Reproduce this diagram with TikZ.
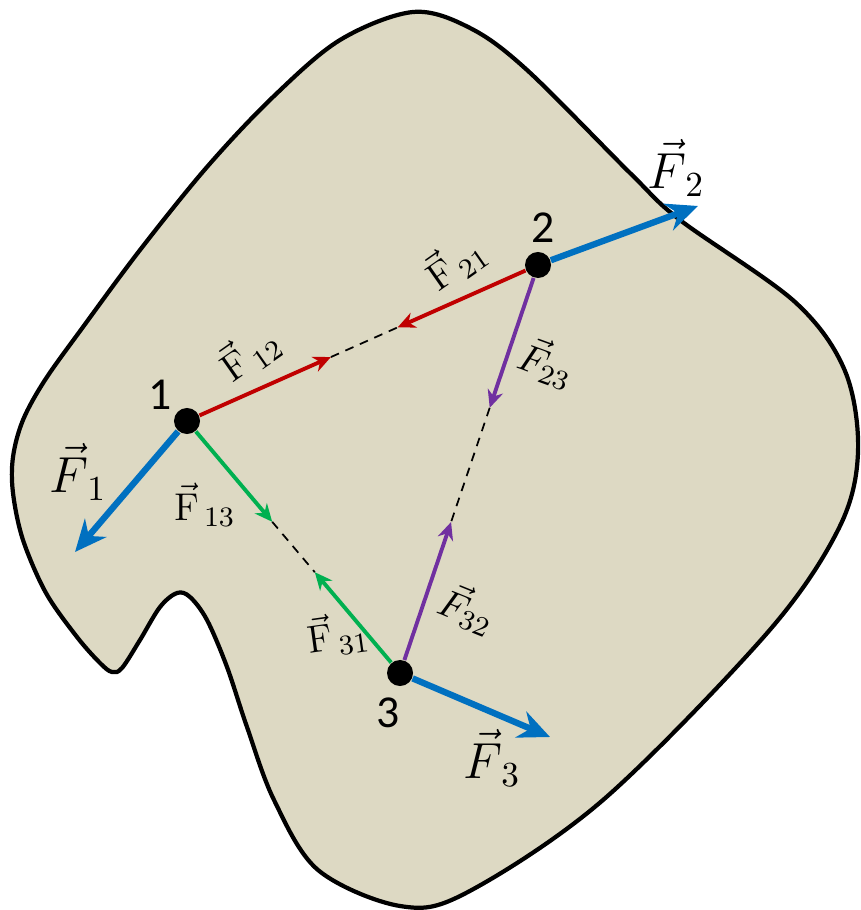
\documentclass[tikz,border=0pt]{standalone}
\usepackage{fontspec}
\usepackage{tikz}
\usetikzlibrary{arrows.meta, calc, positioning}
\newfontfamily\numfont{Carlito}
\definecolor{bodybeige}{HTML}{DDD9C3}
\definecolor{forceblue}{HTML}{0070C0}
\definecolor{forcered}{HTML}{C00000}
\definecolor{forcegreen}{HTML}{00B050}
\definecolor{forcepurple}{HTML}{7030A0}

\begin{document}
\begin{tikzpicture}[x=0.01cm, y=-0.01cm,
    particle/.style={circle, fill=black, inner sep=0pt, minimum size=0.26cm},
    extforce/.style={line width=1.8pt, forceblue, -{Stealth[length=9pt, width=8pt, inset=3pt]}},
    intforce/.style={line width=1.1pt, -{Stealth[length=5pt, width=4.5pt, inset=1.6pt]}},
    lineofaction/.style={black, dashed, line width=0.5pt, dash pattern=on 2.5pt off 2pt},
    numlabel/.style={font=\numfont\fontsize{13}{15}\selectfont},
    biglabel/.style={font=\fontsize{14.5}{16}\selectfont},
    smalllabel/.style={font=\fontsize{11}{13}\selectfont}]
  \useasboundingbox (0,0) rectangle (860,910);

  % Cuerpo rigido
  \draw[fill=bodybeige, line width=1.2pt] plot[smooth cycle, tension=0.55] coordinates {
    (413,12) (470,28) (527,70) (631,174) (680,220) (795,302) (845,371) (858,452) (839,528)
    (768,632) (603,800) (466,893) (400,906) (318,870) (274,800) (247,727) (227,667)
    (207,620) (190,597) (177,593) (160,607) (140,640) (122,668) (112,672) (100,663)
    (77,637) (46,593) (23,540) (13,493) (13,457) (23,420) (45,380) (83,327)
    (140,250) (207,167) (273,97) (340,40)};

  % Particulas
  \node[particle] (n1) at (187,421) {};
  \node[particle] (n2) at (538,265) {};
  \node[particle] (n3) at (400,673) {};
  \node[numlabel] (l1) at (160,395) {1};
  \node[numlabel] (l2) at (543,228) {2};
  \node[numlabel] (l3) at (388,713) {3};

  % Puntas de las fuerzas internas
  \coordinate (t12) at ($(n1)!0.41!(n2)$);
  \coordinate (t21) at ($(n2)!0.40!(n1)$);
  \coordinate (t23) at ($(n2)!0.35!(n3)$);
  \coordinate (t32) at ($(n3)!0.37!(n2)$);
  \coordinate (t13) at ($(n1)!0.40!(n3)$);
  \coordinate (t31) at ($(n3)!0.40!(n1)$);

  % Lineas de accion
  \draw[lineofaction] (t12) -- (t21);
  \draw[lineofaction] (t23) -- (t32);
  \draw[lineofaction] (t13) -- (t31);

  % Fuerzas internas
  \draw[intforce, forcered] (n1) -- (t12);
  \draw[intforce, forcered] (n2) -- (t21);
  \draw[intforce, forcepurple] (n2) -- (t23);
  \draw[intforce, forcepurple] (n3) -- (t32);
  \draw[intforce, forcegreen] (n1) -- (t13);
  \draw[intforce, forcegreen] (n3) -- (t31);

  \node[smalllabel, rotate=35] (f12) at (249,353) {$\vec{\mathrm{F}}_{\,12}$};
  \node[smalllabel, rotate=35] (f21) at (455,262) {$\vec{\mathrm{F}}_{\,21}$};
  \node[smalllabel, rotate=-20] (f23) at (547,362) {$\vec{F}_{23}$};
  \node[smalllabel, rotate=-22] (f32) at (468,608) {$\vec{F}_{32}$};
  \node[smalllabel] (f13) at (205,505) {$\vec{\mathrm{F}}_{\,13}$};
  \node[smalllabel, rotate=8] (f31) at (338,634) {$\vec{\mathrm{F}}_{\,31}$};

  % Fuerzas externas
  \coordinate (e1) at (75,552);
  \coordinate (e2) at (698,206);
  \coordinate (e3) at (550,737);
  \draw[extforce] (n1) -- (e1);
  \draw[extforce] (n2) -- (e2);
  \draw[extforce] (n3) -- (e3);
  \node[biglabel] (f1) at (78,472) {$\vec{F}_{\,1}$};
  \node[biglabel] (f2) at (676,168) {$\vec{F}_{\,2}$};
  \node[biglabel] (f3) at (492,758) {$\vec{F}_{\,3}$};
\end{tikzpicture}
\end{document}
